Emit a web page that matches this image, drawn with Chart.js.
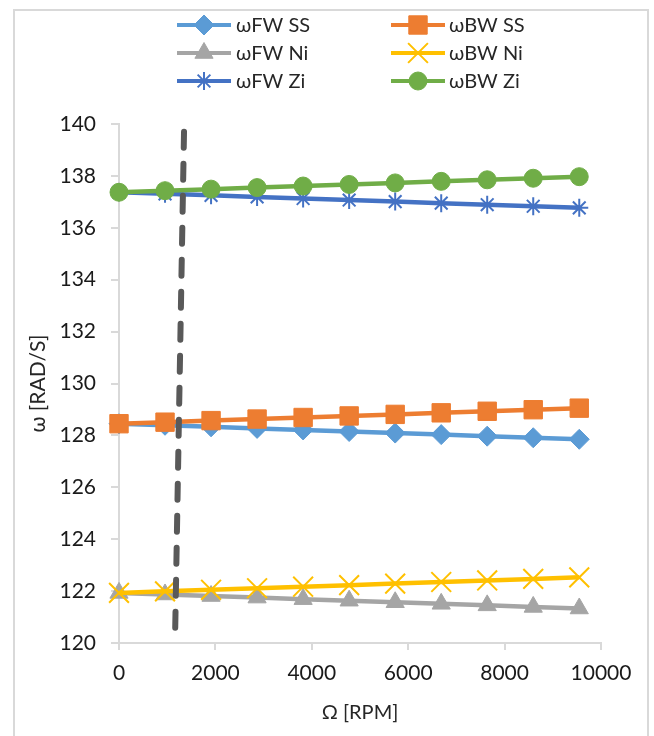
<!DOCTYPE html>
<html lang="en">
<head>
    <meta charset="UTF-8">
    <title>Frecuencias vs velocidad</title>
    <script src="https://cdn.jsdelivr.net/npm/chart.js"></script>
    <style>
        body { margin: 0; background: #fff; }
        #wrap { position: relative; width: 654px; height: 736px; }
        #frame { position: absolute; left: 13px; top: 9px; width: 632px; height: 740px; border: 2px solid #d9d9d9; }
        canvas { position: absolute; left: 0; top: 0; }
    </style>
</head>
<body>
<div id="wrap">
    <div id="frame"></div>
    <canvas id="chart" width="654" height="736"></canvas>
</div>
<script>
    // velocidad de giro (RPM)
    const rpm = [0, 955, 1910, 2865, 3820, 4775, 5730, 6685, 7639, 8594, 9549];

    // frecuencias (rad/s)
    const fwSS = [128.45, 128.39, 128.33, 128.27, 128.21, 128.15, 128.09, 128.03, 127.97, 127.91, 127.85];
    const bwSS = [128.45, 128.51, 128.57, 128.63, 128.69, 128.75, 128.81, 128.87, 128.93, 128.99, 129.05];
    const fwNi = [121.93, 121.87, 121.81, 121.75, 121.69, 121.63, 121.57, 121.51, 121.45, 121.39, 121.33];
    const bwNi = [121.93, 121.99, 122.05, 122.11, 122.17, 122.23, 122.29, 122.35, 122.41, 122.47, 122.53];
    const fwZi = [137.37, 137.31, 137.25, 137.19, 137.13, 137.07, 137.01, 136.95, 136.89, 136.83, 136.77];
    const bwZi = [137.37, 137.43, 137.49, 137.55, 137.61, 137.67, 137.73, 137.79, 137.85, 137.91, 137.97];

    // linea discontinua
    const dashX = [1349, 1162];
    const dashY = [139.7, 120.1];

    const FONT = "Lato, 'Open Sans', 'DejaVu Sans', sans-serif";

    function pts(xs, ys) {
        return xs.map((x, i) => ({ x: x, y: ys[i] }));
    }

    function serie(label, values, color, style, radius, order) {
        return {
            label: label,
            data: pts(rpm, values),
            borderColor: color,
            backgroundColor: color,
            pointBorderColor: color,
            pointBackgroundColor: color,
            pointStyle: style,
            pointRadius: radius,
            pointBorderWidth: (style === "star" || style === "crossRot") ? 2 : 1,
            borderWidth: 4.5,
            tension: 0,
            clip: false,
            order: order
        };
    }

    const datasets = [
        serie("ωFW SS", fwSS, "#5B9BD5", "rectRot", 10, 2),
        serie("ωBW SS", bwSS, "#ED7D31", "rect", 13, 1),
        serie("ωFW Ni", fwNi, "#A5A5A5", "triangle", 10.5, 2),
        serie("ωBW Ni", bwNi, "#FFC000", "crossRot", 14, 1),
        serie("ωFW Zi", fwZi, "#4472C4", "star", 9, 2),
        serie("ωBW Zi", bwZi, "#70AD47", "circle", 9, 1),
        {
            label: "",
            data: pts(dashX, dashY),
            borderColor: "#595959",
            borderWidth: 6,
            borderDash: [16, 16],
            borderCapStyle: "round",
            pointRadius: 0,
            clip: false,
            order: 0
        }
    ];

    // leyenda en dos columnas
    const legendPlugin = {
        id: "gridLegend",
        afterDraw(chart) {
            const ctx = chart.ctx;
            const cols = [{ x0: 177, x1: 231, tx: 236 }, { x0: 391, x1: 445, tx: 449 }];
            const rows = [25, 53, 81];
            ctx.save();
            chart.data.datasets.slice(0, 6).forEach((ds, i) => {
                const c = cols[i % 2];
                const y = rows[Math.floor(i / 2)];
                ctx.strokeStyle = ds.borderColor;
                ctx.lineWidth = 4;
                ctx.lineCap = "butt";
                ctx.beginPath();
                ctx.moveTo(c.x0, y);
                ctx.lineTo(c.x1, y);
                ctx.stroke();
                ctx.fillStyle = ds.borderColor;
                ctx.lineWidth = ds.pointBorderWidth;
                Chart.helpers.drawPoint(ctx, {
                    pointStyle: ds.pointStyle,
                    radius: ds.pointRadius,
                    rotation: 0,
                    borderWidth: ds.pointBorderWidth
                }, (c.x0 + c.x1) / 2, y);
                ctx.fillStyle = "#262626";
                ctx.font = "20px " + FONT;
                ctx.textBaseline = "middle";
                ctx.textAlign = "left";
                ctx.fillText(ds.label, c.tx, y + 1);
            });
            ctx.restore();
        }
    };

    new Chart(document.getElementById("chart"), {
        type: "line",
        data: { datasets: datasets },
        options: {
            responsive: false,
            animation: false,
            layout: { padding: { top: 124, right: 53, left: 0, bottom: 0 } },
            plugins: { legend: { display: false }, tooltip: { enabled: false } },
            scales: {
                x: {
                    type: "linear",
                    min: 0,
                    max: 10000,
                    ticks: {
                        stepSize: 2000, color: "#1a1a1a", font: { family: FONT, size: 21 }, padding: 11, maxRotation: 0,
                        callback: (v) => String(v)
                    },
                    grid: { drawOnChartArea: false, drawTicks: true, tickLength: 7, color: "#d9d9d9", lineWidth: 2 },
                    border: { color: "#d9d9d9", width: 2 },
                    title: { display: true, text: "Ω [RPM]", color: "#262626", font: { family: FONT, size: 20 }, padding: { top: 4, bottom: 11 } },
                    afterFit(scale) { scale.height = 93; }
                },
                y: {
                    min: 120,
                    max: 140,
                    ticks: { stepSize: 2, color: "#1a1a1a", font: { family: FONT, size: 21 }, padding: 15 },
                    grid: { drawOnChartArea: false, drawTicks: true, tickLength: 8, color: "#d9d9d9", lineWidth: 2 },
                    border: { color: "#d9d9d9", width: 2 },
                    title: { display: true, text: "ω [RAD/S]", color: "#262626", font: { family: FONT, size: 21 }, padding: { top: 26, bottom: 4 } },
                    afterFit(scale) { scale.width = 119; }
                }
            }
        },
        plugins: [legendPlugin]
    });
</script>
</body>
</html>
